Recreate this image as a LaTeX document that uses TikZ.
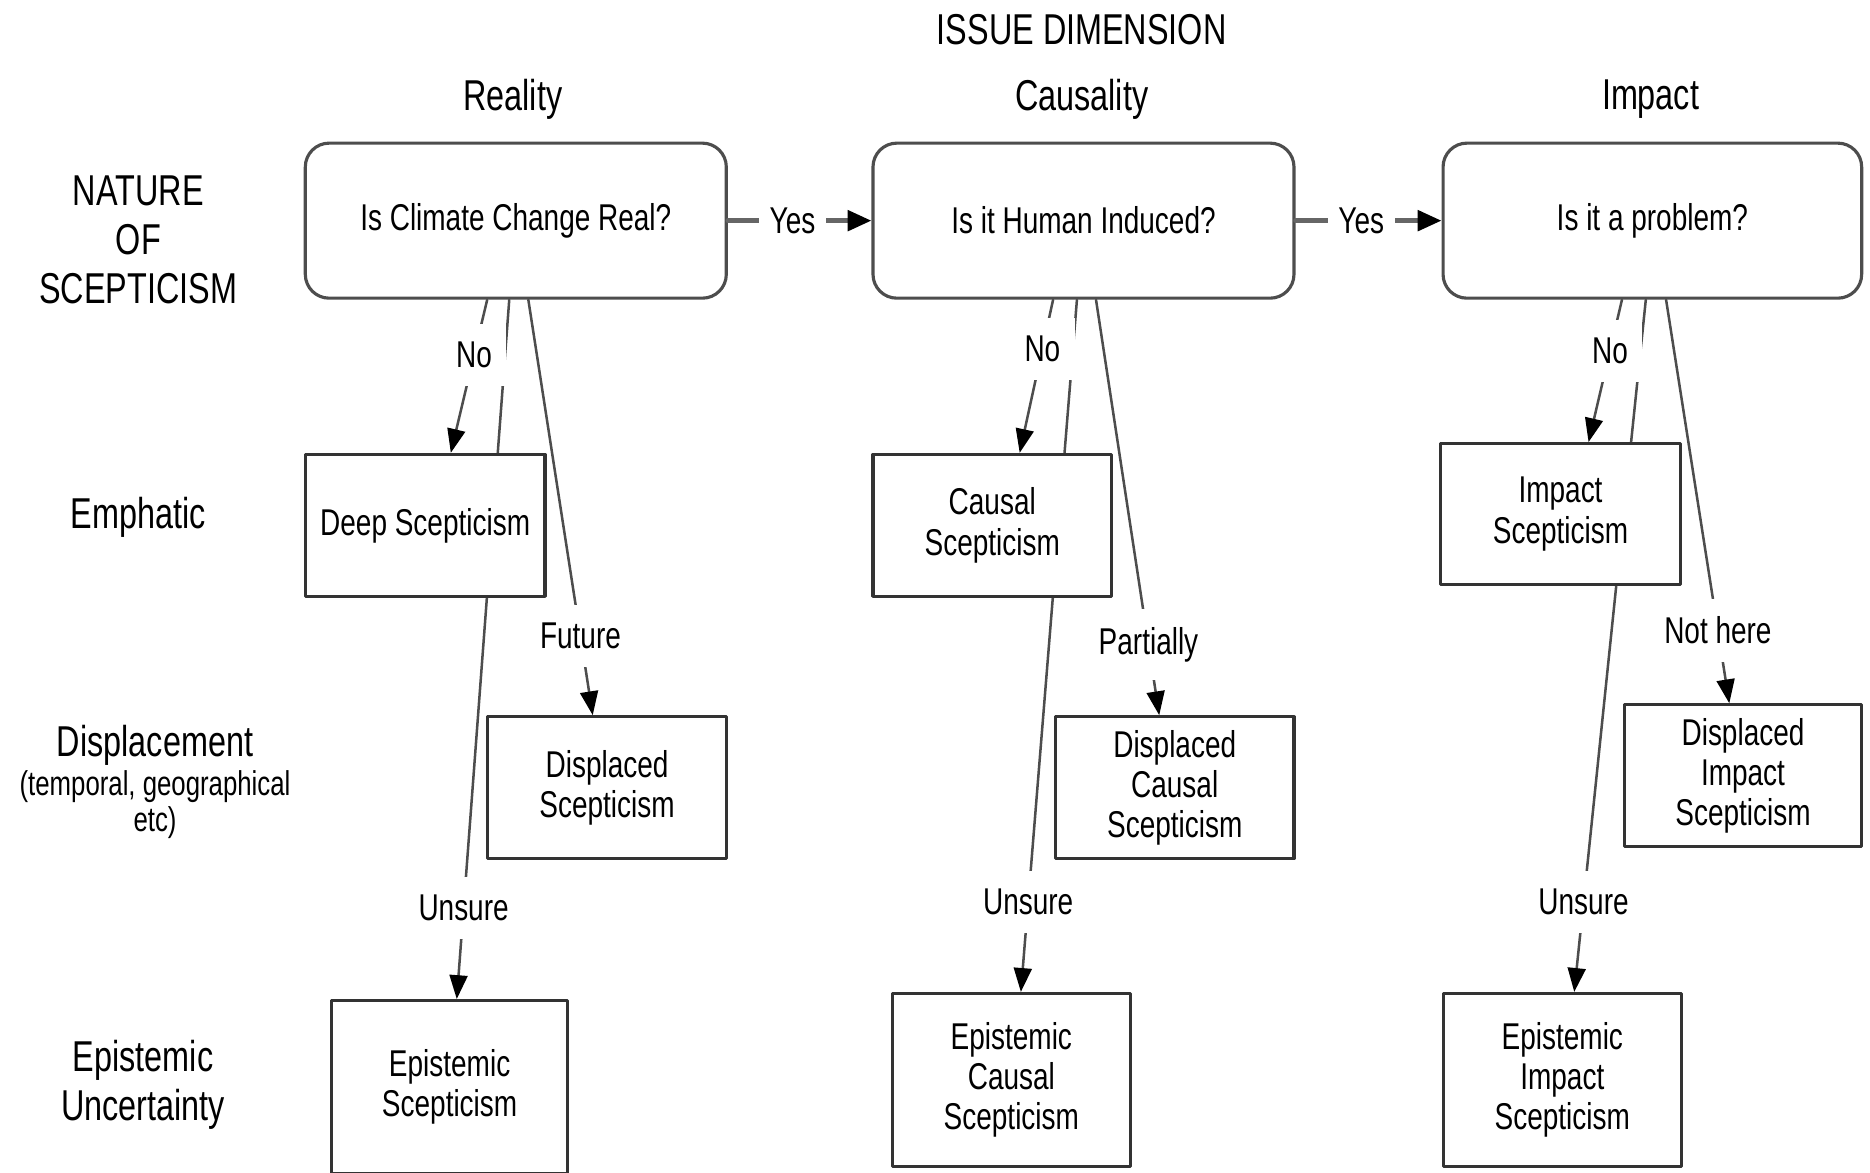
\documentclass[tikz,border=0pt]{standalone}
\usepackage{fontspec}
\setmainfont[FakeStretch=0.75]{Liberation Sans}
\usepackage{tikz}
\usetikzlibrary{arrows.meta}

\definecolor{boxgray}{HTML}{333333}
\definecolor{edgegray}{HTML}{4D4D4D}

\newcommand{\cellfont}{\fontsize{8.9}{9.6}\selectfont}
\newcommand{\rowfont}{\fontsize{10.3}{11.7}\selectfont}
\newcommand{\notefont}{\fontsize{8.2}{8.6}\selectfont}

\begin{document}
\begin{tikzpicture}[
  line cap=round,
  line join=round,
  question/.style={
    draw=edgegray,
    line width=0.75pt,
    rounded corners=0.2cm,
    fill=white,
    minimum width=3.53cm,
    minimum height=1.30cm,
    align=center,
    font=\cellfont,
    inner sep=2pt
  },
  outcome/.style={
    draw=boxgray,
    line width=0.75pt,
    fill=white,
    minimum width=2.00cm,
    minimum height=1.19cm,
    align=center,
    font=\cellfont,
    inner sep=2pt
  },
  heading/.style={
    align=center,
    font=\rowfont,
    inner sep=1pt
  },
  note/.style={
    align=center,
    font=\notefont,
    inner sep=1pt
  },
  answer/.style={
    fill=white,
    font=\cellfont,
    inner xsep=0.12cm,
    inner ysep=0.15cm
  },
  arrow/.style={
    -{Triangle[length=2mm,width=1.5mm,color=black]},
    line width=0.6pt,
    draw=edgegray
  },
  yesarrow/.style={
    -{Triangle[length=2mm,width=1.7mm,color=black]},
    line width=1.1pt,
    draw=black!60
  }
]

\useasboundingbox (0,0) rectangle (15.68,-9.83);

% ------------------------------------------------
% Headings
% ------------------------------------------------
\node[heading] (issue) at (9.07,-0.25)
{ISSUE DIMENSION};

\node[heading] (reality) at (4.30,-0.83) {Reality};
\node[heading] (causality) at (9.07,-0.83) {Causality};
\node[heading] (impact) at (13.84,-0.83) {Impact};

\node[heading] (nature) at (1.16,-2.01)
{NATURE\\OF\\SCEPTICISM};

\node[heading] (emphatic) at (1.16,-4.34) {Emphatic};

\node[heading] (displacement) at (1.30,-6.25) {Displacement};
\node[note] (displnote) at (1.30,-6.75)
{(temporal, geographical\\etc)};

\node[heading] (uncertainty) at (1.20,-9.10)
{Epistemic\\Uncertainty};

% ------------------------------------------------
% Questions
% ------------------------------------------------
\node[question] (real) at (4.325,-1.85)
{Is Climate Change Real?};

\node[question] (human) at (9.085,-1.85)
{Is it Human Induced?};

\node[question, minimum width=3.51cm] (problem) at (13.855,-1.85)
{Is it a problem?};

% ------------------------------------------------
% Displaced and epistemic outcomes
% ------------------------------------------------
\node[outcome] (dispreal) at (5.09,-6.605)
{Displaced\\Scepticism};

\node[outcome] (dispcausal) at (9.85,-6.605)
{Displaced\\Causal\\Scepticism};

\node[outcome, minimum width=1.99cm] (dispimpact) at (14.615,-6.505)
{Displaced\\Impact\\Scepticism};

\node[outcome, minimum width=1.98cm, minimum height=1.45cm] (epireal) at (3.77,-9.115)
{Epistemic\\Scepticism};

\node[outcome, minimum height=1.45cm] (epicausal) at (8.48,-9.055)
{Epistemic\\Causal\\Scepticism};

\node[outcome, minimum height=1.45cm] (epiimpact) at (13.10,-9.055)
{Epistemic\\Impact\\Scepticism};

% The unsure branches run behind the emphatic boxes,
% so they are drawn before those boxes.
\draw[arrow] ([xshift=-0.055cm]real.south)
  -- node[answer, pos=0.87] (unsure1) {Unsure} ([xshift=0.06cm]epireal.north);
\draw[arrow] ([xshift=-0.055cm]human.south)
  -- node[answer, pos=0.87] (unsure2) {Unsure} ([xshift=0.08cm]epicausal.north);
\draw[arrow] ([xshift=-0.055cm]problem.south)
  -- node[answer, pos=0.87] (unsure3) {Unsure} ([xshift=0.10cm]epiimpact.north);

% ------------------------------------------------
% Emphatic outcomes
% ------------------------------------------------
\node[outcome, minimum width=2.01cm] (deep) at (3.565,-4.405)
{Deep Scepticism};

\node[outcome] (causal) at (8.32,-4.405)
{Causal\\Scepticism};

\node[outcome, minimum width=2.01cm, minimum height=1.18cm] (impactsc) at (13.085,-4.31)
{Impact\\Scepticism};

% ------------------------------------------------
% Answers
% ------------------------------------------------
\draw[yesarrow] (real.east)
  -- node[answer, pos=0.45, inner xsep=0.09cm] (yes1) {Yes} (human.west);
\draw[yesarrow] (human.east)
  -- node[answer, pos=0.45, inner xsep=0.09cm] (yes2) {Yes} (problem.west);

\draw[arrow] ([xshift=-0.24cm]real.south)
  -- node[answer, pos=0.36] (no1) {No} ([xshift=0.215cm]deep.north);
\draw[arrow] ([xshift=-0.255cm]human.south)
  -- node[answer, pos=0.32] (no2) {No} ([xshift=0.23cm]causal.north);
\draw[arrow] ([xshift=-0.255cm]problem.south)
  -- node[answer, pos=0.36] (no3) {No} ([xshift=0.235cm]impactsc.north);

\draw[arrow] ([xshift=0.105cm]real.south)
  -- node[answer, pos=0.81] (future) {Future} ([xshift=-0.12cm]dispreal.north);
\draw[arrow] ([xshift=0.105cm]human.south)
  -- node[answer, pos=0.83] (partially) {Partially} ([xshift=-0.13cm]dispcausal.north);
\draw[arrow] ([xshift=0.115cm]problem.south)
  -- node[answer, pos=0.82] (nothere) {Not here} ([xshift=-0.115cm]dispimpact.north);

\end{tikzpicture}
\end{document}
